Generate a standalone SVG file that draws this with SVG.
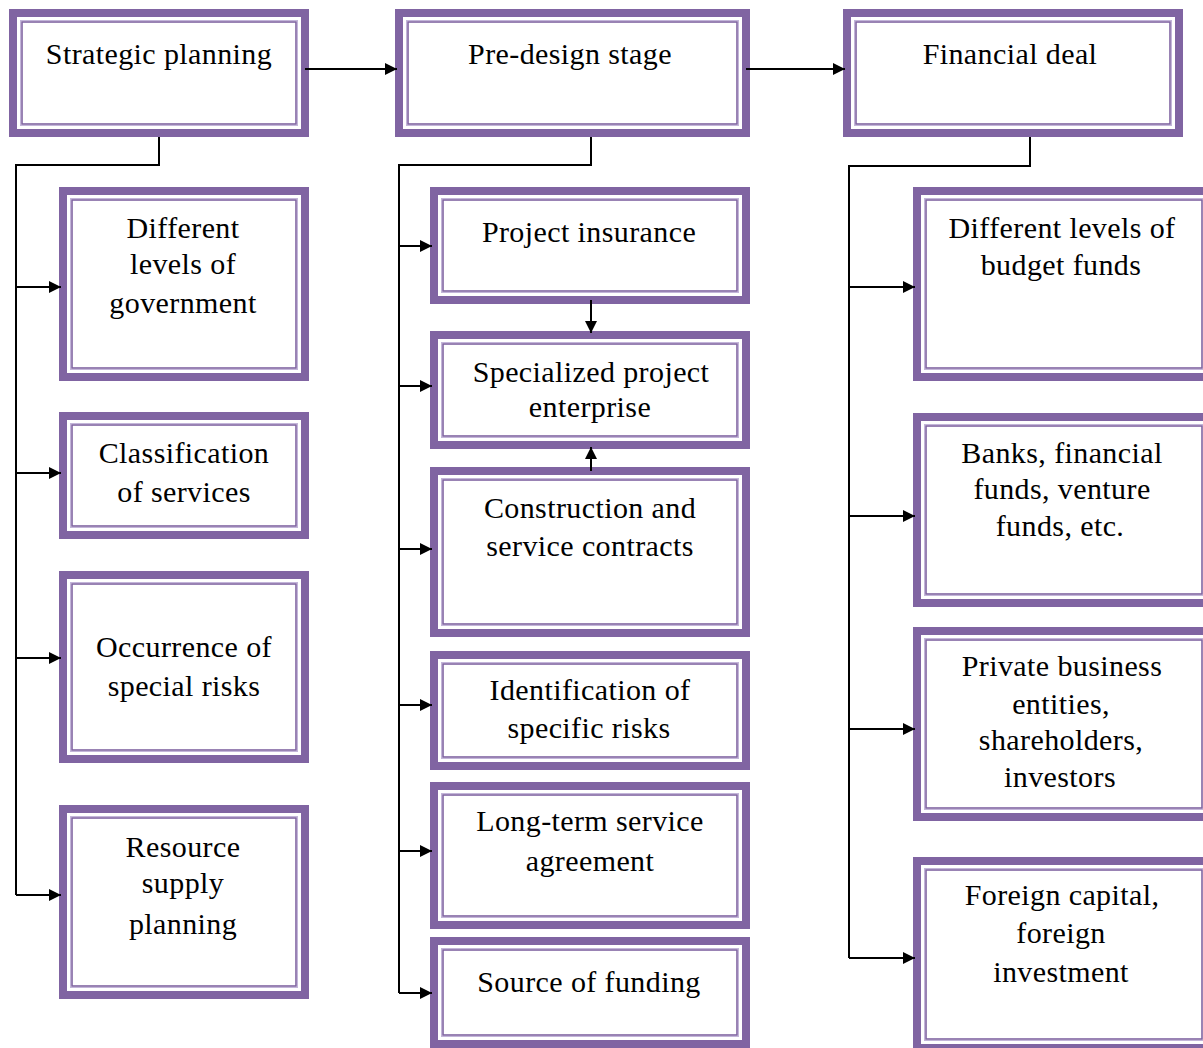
<svg xmlns="http://www.w3.org/2000/svg" width="1203" height="1048" viewBox="0 0 1203 1048">
<defs>
<marker id="ah" markerUnits="userSpaceOnUse" markerWidth="13" markerHeight="13" viewBox="0 0 13 13" refX="12" refY="6.5" orient="auto">
<path d="M0,0.5 L12,6.5 L0,12.5 Z" fill="#000"/>
</marker>
<style>
.o{fill:#fff;stroke:#8064A2;stroke-width:8}
.l{fill:none;stroke:#C3B5D9;stroke-width:1}
.p{fill:none;stroke:#8064A2;stroke-width:1.6}
text{font-family:"Liberation Serif","Times New Roman",serif;font-size:30px;fill:#000;text-anchor:middle;letter-spacing:0.4px}
.c path{fill:none;stroke:#000;stroke-width:2}
</style>
</defs>
<rect width="1203" height="1048" fill="#fff"/>

<g id="strategic"><rect class="o" x="13" y="13" width="292" height="120"/><rect class="l" x="20.5" y="20.5" width="277" height="105"/><rect class="p" x="22" y="22" width="274" height="102"/><text x="159" y="64">Strategic planning</text></g>
<g id="predesign"><rect class="o" x="399" y="13" width="347" height="120"/><rect class="l" x="406.5" y="20.5" width="332" height="105"/><rect class="p" x="408" y="22" width="329" height="102"/><text x="570" y="64">Pre-design stage</text></g>
<g id="financial"><rect class="o" x="847" y="13" width="332" height="120"/><rect class="l" x="854.5" y="20.5" width="317" height="105"/><rect class="p" x="856" y="22" width="314" height="102"/><text x="1010" y="64">Financial deal</text></g>

<g id="gov"><rect class="o" x="63" y="191" width="242" height="186"/><rect class="l" x="70.5" y="198.5" width="227" height="171"/><rect class="p" x="72" y="200" width="224" height="168"/><text x="183" y="238">Different</text><text x="183" y="274">levels of</text><text x="183" y="313">government</text></g>
<g id="classification"><rect class="o" x="63" y="416" width="242" height="119"/><rect class="l" x="70.5" y="423.5" width="227" height="104"/><rect class="p" x="72" y="425" width="224" height="101"/><text x="184" y="463">Classification</text><text x="184" y="502">of services</text></g>
<g id="occurrence"><rect class="o" x="63" y="575" width="242" height="184"/><rect class="l" x="70.5" y="582.5" width="227" height="169"/><rect class="p" x="72" y="584" width="224" height="166"/><text x="184" y="657">Occurrence of</text><text x="184" y="696">special risks</text></g>
<g id="resource"><rect class="o" x="63" y="809" width="242" height="186"/><rect class="l" x="70.5" y="816.5" width="227" height="171"/><rect class="p" x="72" y="818" width="224" height="168"/><text x="183" y="857">Resource</text><text x="183" y="893">supply</text><text x="183" y="934">planning</text></g>

<g id="insurance"><rect class="o" x="434" y="191" width="312" height="109"/><rect class="l" x="441.5" y="198.5" width="297" height="94"/><rect class="p" x="443" y="200" width="294" height="91"/><text x="589" y="242">Project insurance</text></g>
<g id="specialized"><rect class="o" x="434" y="335" width="312" height="110"/><rect class="l" x="441.5" y="342.5" width="297" height="95"/><rect class="p" x="443" y="344" width="294" height="92"/><text x="591" y="382">Specialized project</text><text x="590" y="417">enterprise</text></g>
<g id="construction"><rect class="o" x="434" y="471" width="312" height="162"/><rect class="l" x="441.5" y="478.5" width="297" height="147"/><rect class="p" x="443" y="480" width="294" height="144"/><text x="590" y="518">Construction and</text><text x="590" y="556">service contracts</text></g>
<g id="identification"><rect class="o" x="434" y="655" width="312" height="111"/><rect class="l" x="441.5" y="662.5" width="297" height="96"/><rect class="p" x="443" y="664" width="294" height="93"/><text x="590" y="700">Identification of</text><text x="589" y="738">specific risks</text></g>
<g id="longterm"><rect class="o" x="434" y="786" width="312" height="139"/><rect class="l" x="441.5" y="793.5" width="297" height="124"/><rect class="p" x="443" y="795" width="294" height="121"/><text x="590" y="831">Long-term service</text><text x="590" y="871">agreement</text></g>
<g id="source"><rect class="o" x="434" y="941" width="312" height="103"/><rect class="l" x="441.5" y="948.5" width="297" height="88"/><rect class="p" x="443" y="950" width="294" height="85"/><text x="589" y="992">Source of funding</text></g>

<g id="budget"><rect class="o" x="917" y="191" width="294" height="186"/><rect class="l" x="924.5" y="198.5" width="279" height="171"/><rect class="p" x="926" y="200" width="276" height="168"/><text x="1062" y="238">Different levels of</text><text x="1061" y="275">budget funds</text></g>
<g id="banks"><rect class="o" x="917" y="417" width="294" height="186"/><rect class="l" x="924.5" y="424.5" width="279" height="171"/><rect class="p" x="926" y="426" width="276" height="168"/><text x="1062" y="463">Banks, financial</text><text x="1062" y="499">funds, venture</text><text x="1060" y="536">funds, etc.</text></g>
<g id="private"><rect class="o" x="917" y="631" width="294" height="186"/><rect class="l" x="924.5" y="638.5" width="279" height="171"/><rect class="p" x="926" y="640" width="276" height="168"/><text x="1062" y="676">Private business</text><text x="1061" y="714">entities,</text><text x="1061" y="750">shareholders,</text><text x="1060" y="787">investors</text></g>
<g id="foreign"><rect class="o" x="917" y="861" width="294" height="187"/><rect class="l" x="924.5" y="868.5" width="279" height="172"/><rect class="p" x="926" y="870" width="276" height="169"/><text x="1062" y="905">Foreign capital,</text><text x="1061" y="943">foreign</text><text x="1061" y="982">investment</text></g>

<g id="connectors" class="c">
<path d="M305,69 H397" marker-end="url(#ah)"/>
<path d="M746,69 H845" marker-end="url(#ah)"/>
<path d="M159,137 V165 H16 V895"/>
<path d="M16,287 H61" marker-end="url(#ah)"/>
<path d="M16,473 H61" marker-end="url(#ah)"/>
<path d="M16,658 H61" marker-end="url(#ah)"/>
<path d="M16,895 H61" marker-end="url(#ah)"/>
<path d="M591,137 V165 H399 V993"/>
<path d="M399,246 H432" marker-end="url(#ah)"/>
<path d="M399,386 H432" marker-end="url(#ah)"/>
<path d="M399,549 H432" marker-end="url(#ah)"/>
<path d="M399,705 H432" marker-end="url(#ah)"/>
<path d="M399,851 H432" marker-end="url(#ah)"/>
<path d="M399,993 H432" marker-end="url(#ah)"/>
<path d="M1030,137 V166 H849 V958"/>
<path d="M849,287 H915" marker-end="url(#ah)"/>
<path d="M849,516 H915" marker-end="url(#ah)"/>
<path d="M849,729 H915" marker-end="url(#ah)"/>
<path d="M849,958 H915" marker-end="url(#ah)"/>
<path d="M591,300 V333" marker-end="url(#ah)"/>
<path d="M591,471 V447" marker-end="url(#ah)"/>
</g>
</svg>
